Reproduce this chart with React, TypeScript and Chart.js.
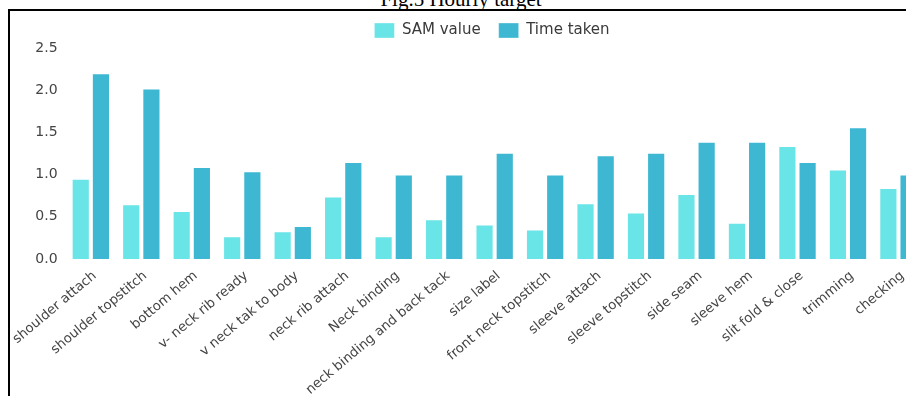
import React, { useEffect, useRef } from "react";
import { Chart, registerables } from "chart.js";

Chart.register(...registerables);

// Sewing operations on the x axis
const operations = [
  "shoulder attach",
  "shoulder topstitch",
  "bottom hem",
  "v- neck rib ready",
  "v neck tak to body",
  "neck rib attach",
  "Neck binding",
  "neck binding and back tack",
  "size label",
  "front neck topstitch",
  "sleeve attach",
  "sleeve topstitch",
  "side seam",
  "sleeve hem",
  "slit fold & close",
  "trimming",
  "checking",
];

const samValue = [0.95, 0.65, 0.57, 0.27, 0.33, 0.74, 0.27, 0.47, 0.41, 0.35, 0.66, 0.55, 0.77, 0.43, 1.34, 1.06, 0.84];
const timeTaken = [2.2, 2.02, 1.09, 1.04, 0.39, 1.15, 1.0, 1.0, 1.26, 1.0, 1.23, 1.26, 1.39, 1.39, 1.15, 1.56, 1.0];

const yMin = 0;
const yMax = 2.5;
const yStep = 0.5;

const FONT = "'DejaVu Sans', 'Liberation Sans', Arial, sans-serif";

export default function App() {
  const canvasRef = useRef<HTMLCanvasElement | null>(null);

  useEffect(() => {
    const canvas = canvasRef.current;
    if (!canvas) return;
    const chart = new Chart(canvas, {
      type: "bar",
      data: {
        labels: operations,
        datasets: [
          {
            label: "SAM value",
            data: samValue,
            backgroundColor: "#69E4E7",
            borderColor: "rgba(255,255,255,0.35)",
            borderWidth: 1,
            yAxisID: "y",
          },
          {
            label: "Time taken",
            data: timeTaken,
            backgroundColor: "#3DB7D2",
            borderColor: "rgba(255,255,255,0.35)",
            borderWidth: 1,
            yAxisID: "y",
          },
        ],
      },
      options: {
        responsive: false,
        animation: false,
        devicePixelRatio: 1,
        layout: { padding: 0 },
        plugins: {
          title: { display: false },
          tooltip: { enabled: false },
          legend: {
            position: "top",
            align: "center",
            labels: {
              boxWidth: 20,
              boxHeight: 15,
              padding: 18,
              color: "#3a3a3a",
              font: { family: FONT, size: 15 },
            },
          },
        },
        scales: {
          x: {
            grid: { display: false, drawTicks: false },
            border: { display: false },
            ticks: {
              autoSkip: false,
              minRotation: 40,
              maxRotation: 40,
              padding: 9,
              labelOffset: 4,
              color: "#444",
              font: { family: FONT, size: 13.3 },
            },
            afterFit: (axis: any) => {
              axis.height = 150;
              axis.paddingLeft = 0;
              axis.paddingRight = 0;
            },
          },
          y: {
            position: "left",
            min: yMin,
            max: yMax,
            grid: { display: false, drawTicks: false },
            border: { display: false },
            ticks: {
              stepSize: yStep,
              padding: 8,
              color: "#444",
              font: { family: FONT, size: 14 },
              callback: (v: any) => Number(v).toFixed(1),
            },
            afterFit: (axis: any) => {
              axis.width = 55.6;
            },
          },
          // empty spacer on the right edge of the plot
          spacer: {
            type: "linear",
            position: "right",
            display: true,
            grid: { display: false, drawTicks: false },
            border: { display: false },
            ticks: { display: false },
            afterFit: (axis: any) => {
              axis.width = 50.3;
            },
          },
        },
      },
    } as any);
    return () => chart.destroy();
  }, []);

  return (
    <div
      style={{
        position: "absolute",
        left: 0,
        top: 0,
        width: 906,
        height: 396,
        overflow: "hidden",
        background: "#fff",
      }}
    >
      <div
        style={{
          position: "absolute",
          left: 0,
          top: -11,
          width: 922,
          textAlign: "center",
          fontFamily: "'Liberation Serif', 'Times New Roman', serif",
          fontSize: 21,
          lineHeight: "21px",
          color: "#000",
          whiteSpace: "nowrap",
        }}
      >
        Fig.5 Hourly target
      </div>
      <canvas
        ref={canvasRef}
        width={964}
        height={404}
        style={{ position: "absolute", left: 10, top: 5, width: 964, height: 404 }}
      />
      <div style={{ position: "absolute", left: 8, top: 9, width: 900, height: 2, background: "#000" }} />
      <div style={{ position: "absolute", left: 8, top: 9, width: 2, height: 400, background: "#000" }} />
    </div>
  );
}
